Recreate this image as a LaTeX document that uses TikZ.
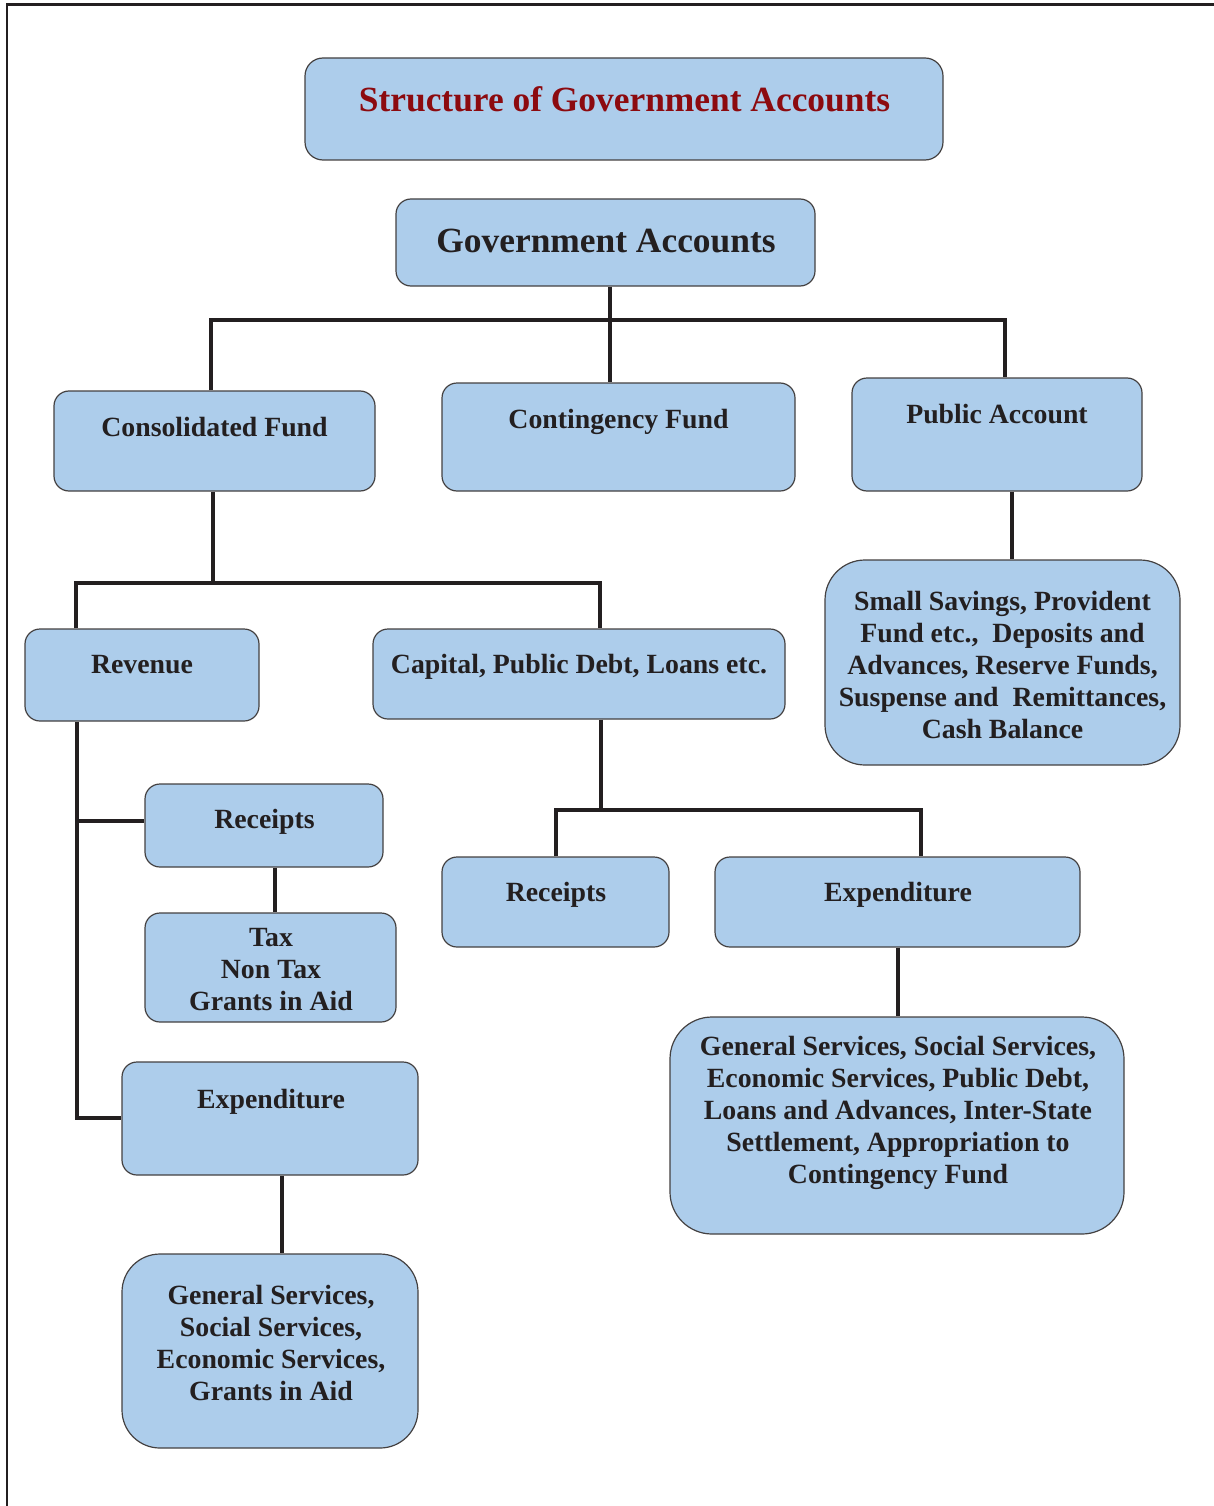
\documentclass[tikz,border=0pt]{standalone}
\usepackage{fontspec}
\setmainfont{Liberation Serif}
\definecolor{boxfill}{HTML}{ADCDEB}
\definecolor{ink}{HTML}{231F20}
\definecolor{titlered}{HTML}{8C0A0F}
\tikzset{
  box/.style={draw=ink!85, line width=1.2pt, fill=boxfill, rounded corners=#1, inner sep=0pt},
  box/.default=15pt,
  txt/.style={font=\fontsize{27.8}{32}\selectfont\bfseries, text=ink, align=center, inner sep=0pt},
  bigtxt/.style={font=\fontsize{35.4}{40}\selectfont\bfseries, align=center, inner sep=0pt},
  conn/.style={draw=ink, line width=4.8pt},
  frameline/.style={draw=ink, line width=2.5pt},
}
\begin{document}
\begin{tikzpicture}[x=1pt,y=-1pt]
\useasboundingbox (0,0) rectangle (1214,1506);
% frame
\draw[frameline] (7,1506) -- (7,4.5) -- (1214,4.5);

% boxes
\node[box=18pt, minimum width=638pt, minimum height=102pt] (title) at (624,109) {};
\node[box, minimum width=419pt, minimum height=87pt] (gov) at (605.5,242.5) {};
\node[box, minimum width=321pt, minimum height=100pt] (cons) at (214.5,441) {};
\node[box, minimum width=353pt, minimum height=108pt] (cont) at (618.5,437) {};
\node[box, minimum width=290pt, minimum height=113pt] (pub) at (997,434.5) {};
\node[box=40pt, minimum width=355pt, minimum height=205pt] (pubd) at (1002.5,662.5) {};
\node[box, minimum width=234pt, minimum height=92pt] (rev) at (142,675) {};
\node[box, minimum width=412pt, minimum height=90pt] (cap) at (579,674) {};
\node[box, minimum width=238pt, minimum height=83pt] (rec1) at (264,825.5) {};
\node[box, minimum width=251pt, minimum height=109pt] (tax) at (270.5,967.5) {};
\node[box, minimum width=296pt, minimum height=113pt] (exp1) at (270,1118.5) {};
\node[box=38pt, minimum width=296pt, minimum height=194pt] (gs1) at (270,1351) {};
\node[box, minimum width=227pt, minimum height=90pt] (rec2) at (555.5,902) {};
\node[box, minimum width=365pt, minimum height=90pt] (exp2) at (897.5,902) {};
\node[box=42pt, minimum width=454pt, minimum height=217pt] (gs2) at (897,1125.5) {};

% texts
\node[bigtxt, text=titlered, anchor=base] (titlet) at (624.5,112) {Structure of Government Accounts};
\node[bigtxt, text=ink, anchor=base] (govt) at (606,252) {Government Accounts};
\node[txt, anchor=base] (const) at (214.5,436) {Consolidated Fund};
\node[txt, anchor=base] (contt) at (618.5,428) {Contingency Fund};
\node[txt, anchor=base] (pubt) at (997,423) {Public Account};
\node[txt, anchor=north] (pubdt) at (1002.5,591.5) {Small Savings, Provident\\Fund etc.,\ \ Deposits and\\Advances, Reserve Funds,\\Suspense and\ \ Remittances,\\Cash Balance};
\node[txt, anchor=base] (revt) at (142,673) {Revenue};
\node[txt, anchor=base] (capt) at (579,673) {Capital, Public Debt, Loans etc.};
\node[txt, anchor=base] (rec1t) at (264.5,828) {Receipts};
\node[txt, anchor=north] (taxt) at (271,928) {Tax\\Non Tax\\Grants in Aid};
\node[txt, anchor=base] (exp1t) at (271,1108) {Expenditure};
\node[txt, anchor=north] (gs1t) at (271,1284.5) {General Services,\\Social Services,\\Economic Services,\\Grants in Aid};
\node[txt, anchor=base] (rec2t) at (556,901) {Receipts};
\node[txt, anchor=base] (exp2t) at (898,901) {Expenditure};
\node[txt, anchor=north] (gs2t) at (898,1035.5) {General Services, Social Services,\\Economic Services, Public Debt,\\Loans and Advances, Inter-State\\Settlement, Appropriation to\\Contingency Fund};

% junction coordinates
\coordinate (a1) at (610,320);
\coordinate (a2) at (211,320);
\coordinate (a3) at (1005,320);
\coordinate (b1) at (1012,0);
\coordinate (c1) at (213,583);
\coordinate (c2) at (76,583);
\coordinate (c3) at (600,583);
\coordinate (d1) at (77,821);
\coordinate (d2) at (77,1118);
\coordinate (e1) at (275,0);
\coordinate (f1) at (282,0);
\coordinate (g1) at (601,810);
\coordinate (g2) at (556,810);
\coordinate (g3) at (921,810);
\coordinate (h1) at (898,0);

% connectors
\draw[conn] (gov.south -| a1) -- (cont.north -| a1);
\draw[conn] (cons.north -| a2) |- (a3) -- (pub.north -| a3);
\draw[conn] (pub.south -| b1) -- (pubd.north -| b1);
\draw[conn] (cons.south -| c1) -- (c1);
\draw[conn] (rev.north -| c2) |- (c3) -- (cap.north -| c3);
\draw[conn] (rev.south -| d1) -- (d2) -- (exp1.west |- d2);
\draw[conn] (d1) -- (rec1.west |- d1);
\draw[conn] (rec1.south -| e1) -- (tax.north -| e1);
\draw[conn] (exp1.south -| f1) -- (gs1.north -| f1);
\draw[conn] (cap.south -| g1) -- (g1);
\draw[conn] (rec2.north -| g2) |- (g3) -- (exp2.north -| g3);
\draw[conn] (exp2.south -| h1) -- (gs2.north -| h1);
\end{tikzpicture}
\end{document}
